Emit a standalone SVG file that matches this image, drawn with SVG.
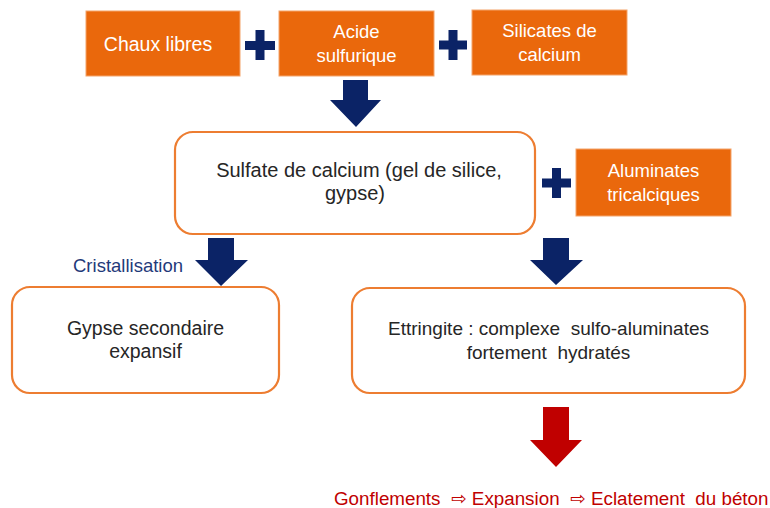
<svg xmlns="http://www.w3.org/2000/svg" width="770" height="508" viewBox="0 0 770 508">
<defs>
<style>
.ob{fill:#EA680C;stroke:#F4A46A;stroke-width:1}
.wb{fill:#FFFFFF;stroke:#ED7D31;stroke-width:2.2}
.wt{font-family:"Liberation Sans","DejaVu Sans",Arial,sans-serif;font-size:18.5px;fill:#FFFFFF;text-anchor:middle}
.dt{font-family:"Liberation Sans","DejaVu Sans",Arial,sans-serif;font-size:19.5px;fill:#262626;text-anchor:middle}
.plus{fill:#0B2366}
.arr{fill:#0B2366}
.red{fill:#C00000}
</style>
</defs>
<rect width="770" height="508" fill="#FFFFFF"/>

<g id="chaux">
<rect class="ob" x="86" y="11" width="154" height="65"/>
<text class="wt" x="158" y="51" font-size="19.5" style="font-size:19.5px">Chaux libres</text>
</g>
<g id="acide">
<rect class="ob" x="279" y="11" width="155" height="65"/>
<text class="wt" x="356.5" y="38">Acide</text>
<text class="wt" x="356.5" y="62">sulfurique</text>
</g>
<g id="silicates">
<rect class="ob" x="472" y="10" width="155" height="65"/>
<text class="wt" x="549.5" y="37">Silicates de</text>
<text class="wt" x="549.5" y="61">calcium</text>
</g>
<g id="sulfate">
<rect class="wb" x="175" y="132" width="360" height="102" rx="18"/>
<text class="dt" x="359" y="177" style="font-size:20px">Sulfate de calcium (gel de silice,</text>
<text class="dt" x="355" y="200" style="font-size:20px">gypse)</text>
</g>
<g id="aluminates">
<rect class="ob" x="576" y="149" width="155" height="67"/>
<text class="wt" x="653.5" y="177">Aluminates</text>
<text class="wt" x="653.5" y="201">tricalciques</text>
</g>
<g id="gypse">
<rect class="wb" x="12" y="287" width="267" height="106" rx="18"/>
<text class="dt" x="145.5" y="335">Gypse secondaire</text>
<text class="dt" x="145.5" y="358">expansif</text>
</g>
<g id="ettringite">
<rect class="wb" x="352" y="288" width="393" height="105" rx="18"/>
<text class="dt" x="548.5" y="335" xml:space="preserve" style="font-size:19px">Ettringite : complexe  sulfo-aluminates</text>
<text class="dt" x="548.5" y="359" xml:space="preserve" style="font-size:19px">fortement  hydratés</text>
</g>
<g id="resultat">
<text x="334" y="505" font-family="'Liberation Sans','DejaVu Sans',Arial,sans-serif" font-size="18.8" fill="#C00000" xml:space="preserve">Gonflements  ⇨ Expansion  ⇨ Eclatement  du béton</text>
</g>

<g id="connectors">
<path class="plus" d="M245,41 H255.5 V30 H264.5 V41 H275 V50 H264.5 V60 H255.5 V50 H245 Z"/>
<path class="plus" d="M439,40.5 H448.5 V30 H457.5 V40.5 H467 V49.5 H457.5 V60 H448.5 V49.5 H439 Z"/>
<path class="plus" d="M542,178.5 H552 V168 H561 V178.5 H571 V187.5 H561 V198 H552 V187.5 H542 Z"/>
<path class="arr" d="M343,80 H368 V100 H381 L356,127 L330,100 H343 Z"/>
<path class="arr" d="M208,238 H234 V260 H248 L221,286 L195,260 H208 Z"/>
<path class="arr" d="M543,238 H569 V260 H583 L556,285 L530,260 H543 Z"/>
<path class="red" d="M543,407 H569 V440 H582 L556,467 L530,440 H543 Z"/>
<text x="73" y="272" font-family="'Liberation Sans','DejaVu Sans',Arial,sans-serif" font-size="18.5" fill="#1F3A7A">Cristallisation</text>
</g>
</svg>
